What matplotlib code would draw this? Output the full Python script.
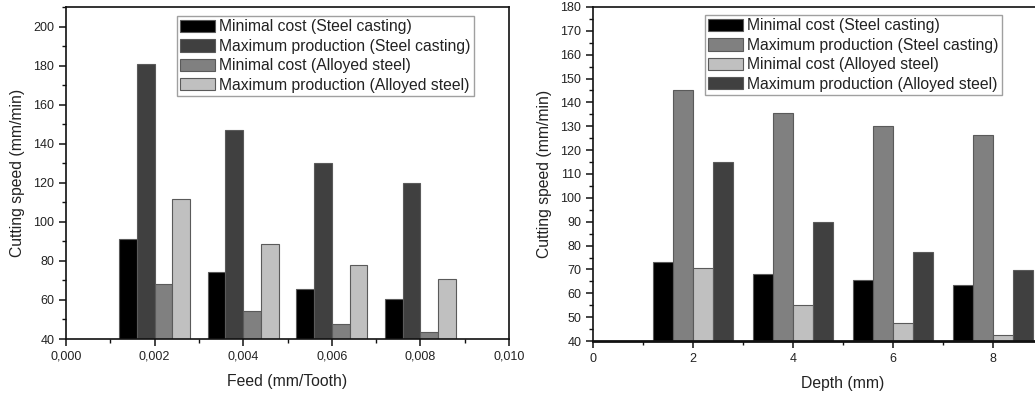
import matplotlib
matplotlib.use("Agg")
import matplotlib.pyplot as plt
import numpy as np
from matplotlib.ticker import MultipleLocator, FuncFormatter, FixedLocator

plt.rcParams['font.family'] = ['Liberation Sans', 'DejaVu Sans']

# ---- data ----
feed = [0.002, 0.004, 0.006, 0.008]
feed_series = ["Minimal cost (Steel casting)", "Maximum production (Steel casting)",
               "Minimal cost (Alloyed steel)", "Maximum production (Alloyed steel)"]
feed_min_cost_steel_casting = [91.2, 74.1, 65.7, 60.4]
feed_max_prod_steel_casting = [180.6, 146.9, 130.3, 119.7]
feed_min_cost_alloyed = [68.1, 54.2, 47.9, 43.6]
feed_max_prod_alloyed = [111.6, 88.8, 77.9, 70.7]
feed_ticks = [0.000, 0.002, 0.004, 0.006, 0.008, 0.010]

depth = [2, 4, 6, 8]
depth_series = ["Minimal cost (Steel casting)", "Maximum production (Steel casting)",
                "Minimal cost (Alloyed steel)", "Maximum production (Alloyed steel)"]
depth_min_cost_steel_casting = [73.1, 68.2, 65.6, 63.6]
depth_max_prod_steel_casting = [145.2, 135.4, 130.0, 126.3]
depth_min_cost_alloyed = [70.5, 55.0, 47.4, 42.7]
depth_max_prod_alloyed = [115.2, 89.9, 77.4, 69.9]
depth_ticks = [0, 2, 4, 6, 8]

left_colors = ["#000000", "#404040", "#808080", "#c0c0c0"]
right_colors = ["#000000", "#808080", "#c0c0c0", "#404040"]

txt = "#222222"
fig = plt.figure(figsize=(10.35, 3.94), dpi=100)

def style(ax):
    for s in ax.spines.values():
        s.set_linewidth(1.2)
        s.set_color("#111111")
    ax.tick_params(which='major', direction='out', length=5, width=1.1,
                   labelsize=9, colors="#111111", labelcolor=txt)
    ax.tick_params(which='minor', direction='out', length=3, width=1.0, colors="#111111")

def bars(ax, xs, series, labels, colors, width):
    offsets = np.array([-1.5, -0.5, 0.5, 1.5]) * width
    for vals, lab, col, off in zip(series, labels, colors, offsets):
        ax.bar(np.array(xs) + off, np.array(vals) - 40, width=width, bottom=40,
               color=col, edgecolor="#5a5a5a", linewidth=0.8, label=lab, zorder=2)

def legend(ax, anchor):
    leg = ax.legend(loc='upper right', bbox_to_anchor=anchor, fontsize=11.3,
                    frameon=True, fancybox=False, borderpad=0.2, labelspacing=0.28,
                    handlelength=2.2, handleheight=0.85, handletextpad=0.3,
                    borderaxespad=0)
    leg.get_frame().set_edgecolor("#888888")
    leg.get_frame().set_linewidth(1.0)
    for t in leg.get_texts():
        t.set_color(txt)

# ---- left panel ----
ax1 = fig.add_axes([66/1035, 1 - 339/394, 443/1035, 332/394])
bars(ax1, feed, [feed_min_cost_steel_casting, feed_max_prod_steel_casting,
                 feed_min_cost_alloyed, feed_max_prod_alloyed],
     feed_series, left_colors, 0.0004)
ax1.set_xlim(0, 0.010)
ax1.set_ylim(40, 210)
ax1.xaxis.set_major_locator(FixedLocator(feed_ticks))
ax1.xaxis.set_minor_locator(MultipleLocator(0.001))
ax1.yaxis.set_major_locator(MultipleLocator(20))
ax1.yaxis.set_minor_locator(MultipleLocator(10))
ax1.xaxis.set_major_formatter(FuncFormatter(lambda v, p: f"{v:.3f}".replace(".", ",")))
style(ax1)
ax1.set_xlabel("Feed (mm/Tooth)", fontsize=11.3, color=txt, labelpad=8)
ax1.set_ylabel("Cutting speed (mm/min)", fontsize=11.3, color=txt, labelpad=6)
legend(ax1, (0.921, 0.972))

# ---- right panel ----
ax2 = fig.add_axes([593/1035, 1 - 341/394, 500/1035, 334/394])
bars(ax2, depth, [depth_min_cost_steel_casting, depth_max_prod_steel_casting,
                  depth_min_cost_alloyed, depth_max_prod_alloyed],
     depth_series, right_colors, 0.4)
ax2.set_xlim(0, 10)
ax2.set_ylim(40, 180)
ax2.xaxis.set_major_locator(FixedLocator(depth_ticks))
ax2.xaxis.set_minor_locator(FixedLocator([1, 3, 5, 7, 9]))
ax2.yaxis.set_major_locator(MultipleLocator(10))
ax2.yaxis.set_minor_locator(MultipleLocator(5))
style(ax2)
ax2.spines['bottom'].set_linewidth(2.0)
ax2.set_xlabel("Depth (mm)", fontsize=11.3, color=txt, labelpad=8)
ax2.set_ylabel("Cutting speed (mm/min)", fontsize=11.3, color=txt, labelpad=6)
legend(ax2, (0.818, 0.975))

fig.savefig("out.png", dpi=100)
